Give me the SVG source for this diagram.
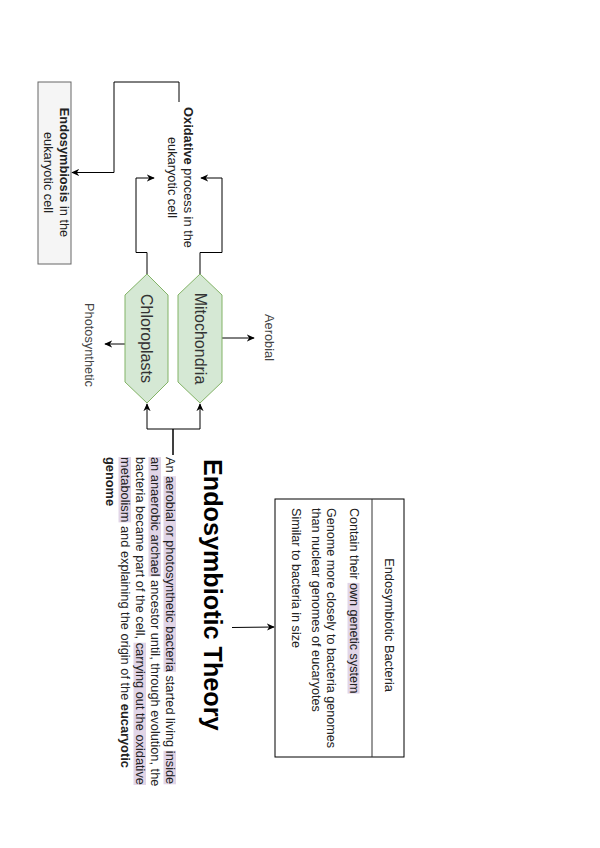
<svg xmlns="http://www.w3.org/2000/svg" width="600" height="848" viewBox="0 0 600 848">
<style>
text{font-family:"Liberation Sans",Arial,sans-serif;fill:#222}
.s{font-size:12.8px}
.lbl{font-size:12.8px;fill:#444}
.hex{fill:#d5e8d4;stroke:#82b366;stroke-width:1}
.hexT{font-size:16px;fill:#333;text-anchor:middle}
.edge{fill:none;stroke:#000;stroke-width:1}
.hl{fill:#e1d5e7}
</style>
<defs>
<marker id="arr" viewBox="0 0 10 10" refX="9" refY="5" markerWidth="8" markerHeight="8" markerUnits="userSpaceOnUse" orient="auto">
<path d="M0,0.5 L10,5 L0,9.5 L3,5 z" fill="#000"/>
</marker>
</defs>
<rect width="600" height="848" fill="#fff"/>

<g id="connectors">
<path class="edge" d="M179,102 L179,82 L114,82 L114,172.5 L72,172.5" marker-end="url(#arr)"/>
<path class="edge" d="M147,274 L147,252.5 L136,252.5 L136,178 L154,178" marker-end="url(#arr)"/>
<path class="edge" d="M200,274 L200,252.5 L222,252.5 L222,178 L201,178" marker-end="url(#arr)"/>
<path class="edge" d="M222,338 L254,338" marker-end="url(#arr)"/>
<path class="edge" d="M125,344 L105,344" marker-end="url(#arr)"/>
<path class="edge" d="M173,455 L173,429 L147,429 L147,404" marker-end="url(#arr)"/>
<path class="edge" d="M173,455 L173,429 L200,429 L200,404" marker-end="url(#arr)"/>
<path class="edge" d="M232,627.5 L274,627" marker-end="url(#arr)"/>
</g>

<g id="endosymbiosis">
<rect x="38" y="82" width="33" height="182" fill="#f5f5f5" stroke="#666"/>
<text class="s" fill="#333" text-anchor="middle" transform="translate(59.8,172.5) rotate(90)"><tspan x="0" y="0"><tspan font-weight="bold">Endosymbiosis</tspan> in the</tspan><tspan x="0" y="15.4">eukaryotic cell</tspan></text>
</g>

<g id="oxidative">
<text class="s" text-anchor="middle" transform="translate(183.8,177.5) rotate(90)"><tspan x="0" y="0"><tspan font-weight="bold">Oxidative</tspan> process in the</tspan><tspan x="0" y="15.4">eukaryotic cell</tspan></text>
</g>

<g id="chloroplasts">
<polygon class="hex" points="147,274 168,295 168,382 147,403 125,382 125,295"/>
<text class="hexT" transform="translate(141,338.5) rotate(90)">Chloroplasts</text>
</g>

<g id="mitochondria">
<polygon class="hex" points="200,274 222,295 222,382 200,403 178,382 178,295"/>
<text class="hexT" transform="translate(194.5,338.5) rotate(90)">Mitochondria</text>
</g>

<g id="aerobial">
<text class="lbl" text-anchor="middle" transform="translate(265,337.5) rotate(90)">Aerobial</text>
</g>

<g id="photosynthetic">
<text class="lbl" transform="translate(85,303) rotate(90)">Photosynthetic</text>
</g>

<g id="title">
<text font-size="25.2" font-weight="bold" style="fill:#000" transform="translate(204,459) rotate(90)">Endosymbiotic Theory</text>
</g>

<g id="paragraph" transform="translate(166,457) rotate(90)">
<rect class="hl" x="19.2" y="-10" width="195.7" height="12.5"/>
<rect class="hl" x="293.8" y="-10" width="33.5" height="12.5"/>
<rect class="hl" x="0" y="5" width="119.5" height="12.5"/>
<rect class="hl" x="185.7" y="20" width="142.3" height="12.5"/>
<rect class="hl" x="0" y="35" width="65.4" height="12.5"/>
<text class="s"><tspan x="0" y="0">An aerobial or photosynthetic bacteria started living inside</tspan><tspan x="0" y="15">an anaerobic archael ancestor until, through evolution, the</tspan><tspan x="0" y="30">bacteria became part of the cell, carrying out the oxidative</tspan><tspan x="0" y="45">metabolism and explaining the origin of the <tspan font-weight="bold">eucaryotic</tspan></tspan><tspan x="0" y="60" font-weight="bold">genome</tspan></text>
</g>

<g id="bacteria">
<rect x="275" y="499" width="129" height="258" fill="#fff" stroke="#000"/>
<line x1="372" y1="499" x2="372" y2="757" stroke="#333"/>
<text class="s" text-anchor="middle" transform="translate(385,625) rotate(90)">Endosymbiotic Bacteria</text>
<g transform="translate(350,508) rotate(90)">
<rect class="hl" x="74.9" y="-9.5" width="110.7" height="12"/>
<text font-size="12.6"><tspan x="0" y="0">Contain their own genetic system</tspan><tspan x="0" y="23">Genome more closely to bacteria genomes</tspan><tspan x="0" y="38">than nuclear genomes of eucaryotes</tspan><tspan x="0" y="58">Similar to bacteria in size</tspan></text>
</g>
</g>
</svg>
